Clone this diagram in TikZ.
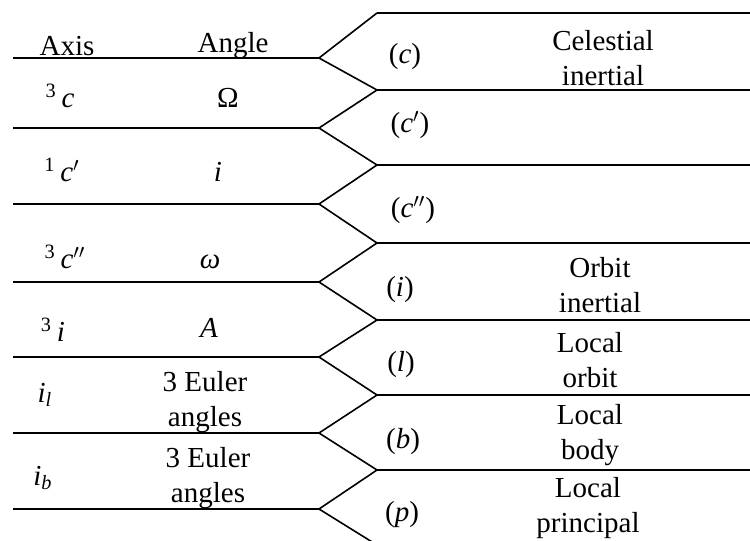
\documentclass[tikz,border=0pt]{standalone}
\usepackage{fontspec}
\setmainfont{Liberation Serif}
\begin{document}
\begin{tikzpicture}[x=0.5pt,y=-0.5pt,
  rule/.style={line width=0.8pt},
  lbl/.style={font=\fontsize{14.5}{17.5}\selectfont, inner sep=0pt, align=center}]
\useasboundingbox (0,0) rectangle (750,541);
\begin{scope}
\clip (0,0) rectangle (750,541);
% left vertices
\foreach \n/\y in {0/58,1/128,2/204,3/282,4/357,5/433,6/509}{
  \coordinate (L\n) at (319,\y);
  \coordinate (A\n) at (13,\y);
}
% right vertices
\foreach \n/\y in {0/13,1/90,2/165,3/243,4/320,5/395,6/470,7/545}{
  \coordinate (R\n) at (377,\y);
  \coordinate (B\n) at (750,\y);
}
\foreach \n in {0,...,6} \draw[rule] (A\n) -- (L\n);
\foreach \n in {0,...,7} \draw[rule] (R\n) -- (B\n);
\draw[rule] (R0) -- (L0) -- (R1) -- (L1) -- (R2) -- (L2) -- (R3) -- (L3) -- (R4) -- (L4) -- (R5) -- (L5) -- (R6) -- (L6) -- (R7);
\end{scope}
% headers
\node[lbl] (hax) at (67,46) {Axis};
\node[lbl] (han) at (233,46) {Angle};
% left rows
\node[lbl] (a1) at (60,96) {\textsuperscript{3}\,\textit{c}};
\node[lbl] (g1) at (228,98) {Ω};
\node[lbl] (a2) at (62,170) {\textsuperscript{1}\,\textit{c}$'$};
\node[lbl] (g2) at (218,172) {\textit{i}};
\node[lbl] (a3) at (65,257) {\textsuperscript{3}\,\textit{c}$''$};
\node[lbl] (g3) at (210,262) {\textit{ω}};
\node[lbl] (a4) at (53,330) {\textsuperscript{3}\,\textit{i}};
\node[lbl] (g4) at (209,328) {\textit{A}};
\node[lbl] (a5) at (45,395) {\textit{i}\textsubscript{\textit{l}}};
\node[lbl] (g5) at (205,402) {3 Euler\\angles};
\node[lbl] (a6) at (43,478) {\textit{i}\textsubscript{\textit{b}}};
\node[lbl] (g6) at (208,478) {3 Euler\\angles};
% right rows
\node[lbl] (f1) at (405,57) {(\textit{c})};
\node[lbl] (d1) at (603,58) {Celestial\\inertial};
\node[lbl] (f2) at (410,125) {(\textit{c}$'$)};
\node[lbl] (f3) at (413,210) {(\textit{c}$''$)};
\node[lbl] (f4) at (400,290) {(\textit{i})};
\node[lbl] (d4) at (600,285) {Orbit\\inertial};
\node[lbl] (f5) at (401,365) {(\textit{l})};
\node[lbl] (d5) at (590,360) {Local\\orbit};
\node[lbl] (f6) at (403,442) {(\textit{b})};
\node[lbl] (d6) at (590,435) {Local\\body};
\node[lbl] (f7) at (402,515) {(\textit{p})};
\node[lbl] (d7) at (588,508) {Local\\principal};
\end{tikzpicture}
\end{document}
